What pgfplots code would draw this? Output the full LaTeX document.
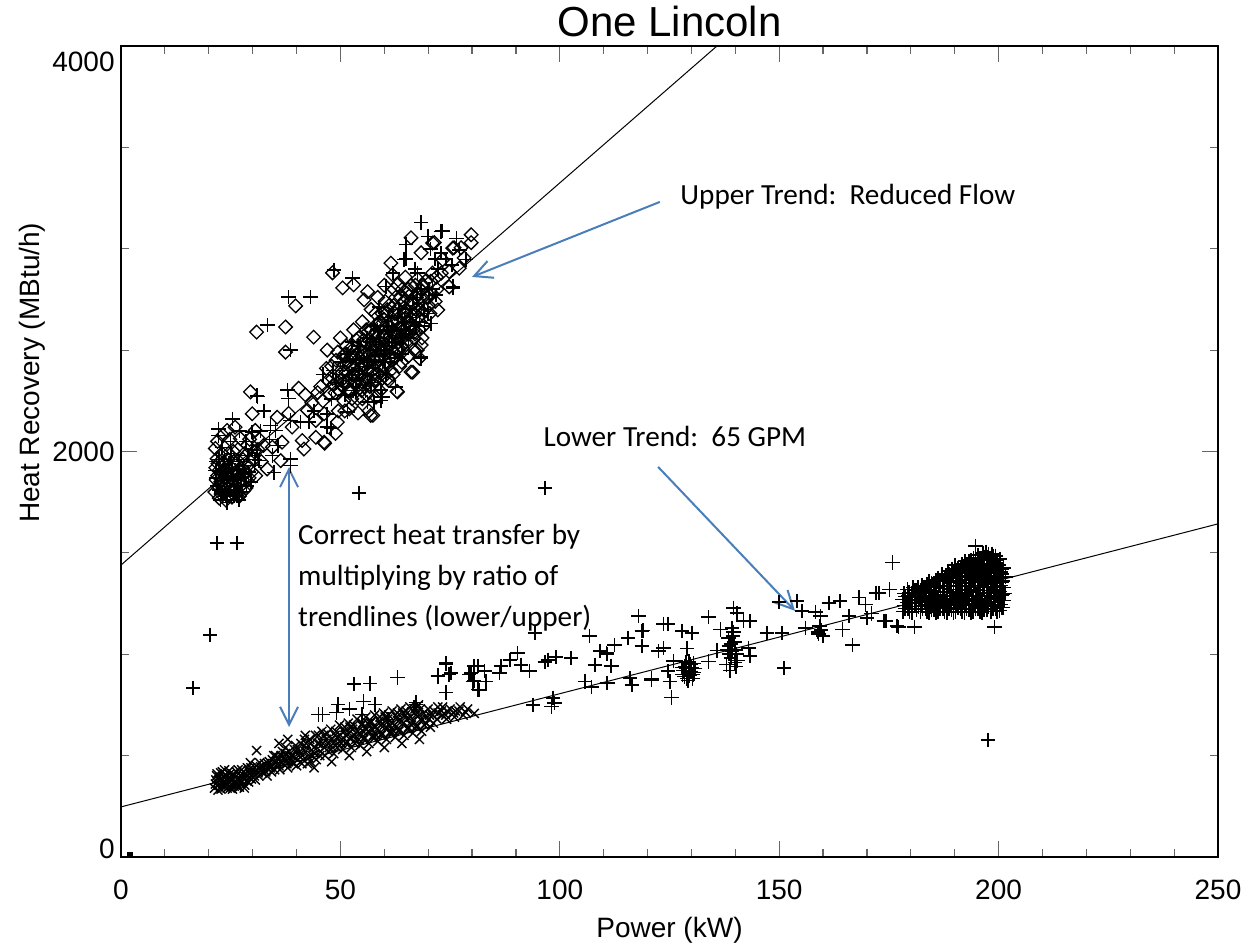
\documentclass[border=0pt]{standalone}
\usepackage{pgfplots}
\pgfplotsset{compat=1.18}
\usepackage{pgfplotstable}
\usepackage{fontspec}
\setmainfont{Liberation Sans}
\newfontfamily\calibri{Carlito}
\usetikzlibrary{arrows.meta}
\definecolor{arrowblue}{HTML}{4A7EBB}

\pgfplotstableread[row sep=\\]{
x y\\
21.5 2015\\ 21.9 1964\\ 22.0 1880\\ 22.3 1825\\ 22.5 1910\\ 22.8 1790\\ 23.0 1860\\ 23.3 1945\\ 23.5 1800\\ 23.8 1890\\
24.0 1830\\ 24.2 2104\\ 24.4 1960\\ 24.6 1785\\ 24.9 1870\\ 25.1 1920\\ 25.4 1810\\ 25.6 2000\\ 25.9 1855\\ 26.2 1940\\
26.5 1795\\ 26.8 1890\\ 27.2 2064\\ 27.5 1835\\ 27.8 1960\\ 28.0 1807\\ 28.4 1900\\ 28.8 2030\\ 29.2 1870\\ 29.5 2294\\
29.9 2186\\ 30.2 1960\\ 30.6 2104\\ 31.2 2010\\ 32.0 1950\\ 33.3 1914\\ 34.5 2021\\ 35.6 2169\\ 36.4 1955\\ 36.7 2046\\
38.2 2188\\ 39.0 2120\\ 40.5 2312\\ 41.3 2054\\ 41.7 2012\\ 42.5 2203\\ 44.4 2153\\ 44.4 2070\\ 46.3 2186\\ 46.3 2046\\
49.3 2145\\ 48.9 2089\\ 30.9 2589\\ 37.5 2614\\ 37.5 2490\\ 39.8 2718\\ 48.2 2881\\ 50.5 2807\\ 53.0 2822\\ 43.9 2564\\
46.4 2040\\ 57.4 2178\\ 56.9 2178\\ 58.1 2268\\ 62.9 2297\\ 63.0 2294\\ 66.5 2391\\ 66.1 2392\\ 68.4 2525\\ 72.2 2698\\
74.8 2812\\ 74.8 2887\\ 77.1 2904\\ 73.3 2946\\ 75.6 3003\\ 77.5 3005\\ 79.8 3069\\ 79.8 3030\\ 71.4 3030\\ 75.9 3005\\
66.1 3054\\ 71.0 3028\\ 68.4 2980\\ 61.5 2929\\ 61.9 2871\\ 56.2 2788\\ 55.4 2748\\ 68.4 2797\\ 63.0 2822\\ 78.2 2955\\
45.5 2320\\ 46.8 2410\\ 47.5 2280\\ 48.2 2360\\ 49.0 2450\\ 49.8 2300\\ 50.4 2390\\ 51.0 2480\\ 51.5 2340\\ 52.1 2420\\
52.6 2260\\ 53.2 2510\\ 53.8 2380\\ 54.3 2460\\ 54.8 2300\\ 55.3 2550\\ 55.7 2420\\ 56.2 2490\\ 56.6 2350\\ 57.1 2600\\
57.5 2460\\ 58.0 2530\\ 58.4 2380\\ 58.9 2640\\ 59.3 2500\\ 59.7 2570\\ 60.1 2420\\ 60.5 2680\\ 60.9 2540\\ 61.3 2610\\
61.7 2450\\ 62.1 2720\\ 62.5 2580\\ 62.9 2650\\ 63.3 2500\\ 63.8 2760\\ 64.2 2620\\ 64.6 2690\\ 65.0 2540\\ 65.5 2800\\
66.0 2660\\ 66.5 2730\\ 67.0 2580\\ 67.6 2850\\ 68.2 2700\\ 69.0 2620\\ 70.0 2760\\ 71.0 2880\\ 72.0 2800\\ 59.0 2300\\
61.0 2350\\ 64.0 2440\\ 55.0 2640\\ 57.0 2700\\ 53.0 2600\\ 50.0 2560\\ 47.0 2500\\ 52.0 2210\\ 49.5 2200\\ 58.5 2760\\
60.0 2820\\ 62.0 2380\\ 65.5 2470\\ 67.5 2500\\
52.3 2300\\ 52.8 2380\\ 53.4 2330\\ 53.9 2260\\ 54.5 2410\\ 55.1 2340\\ 55.6 2480\\ 56.1 2400\\ 56.7 2320\\ 57.2 2520\\
57.8 2380\\ 58.3 2460\\ 58.8 2540\\ 59.4 2400\\ 59.9 2610\\ 60.4 2500\\ 60.8 2360\\ 61.4 2570\\ 61.9 2640\\ 62.4 2460\\
62.8 2700\\ 63.4 2580\\ 63.9 2520\\ 64.4 2740\\ 64.9 2660\\ 65.3 2580\\ 65.9 2720\\ 66.3 2620\\ 66.9 2680\\ 67.3 2760\\
68.0 2600\\ 68.6 2560\\ 69.3 2700\\ 70.4 2680\\ 48.5 2330\\ 49.6 2370\\ 50.8 2250\\ 51.7 2440\\ 46.0 2250\\ 44.8 2290\\
43.5 2240\\ 42.0 2280\\ 55.9 2600\\ 58.0 2680\\ 60.2 2740\\ 62.2 2800\\ 64.8 2860\\ 56.5 2200\\ 54.0 2190\\
21.4 1800\\ 21.7 1860\\ 22.1 1940\\ 22.4 1770\\ 22.7 1850\\ 23.0 1990\\ 23.2 1820\\ 23.6 1910\\ 23.9 1760\\ 24.2 1870\\
24.5 1990\\ 24.8 1830\\ 25.0 1900\\ 25.3 1775\\ 25.7 1950\\ 26.0 1820\\ 26.4 1890\\ 26.7 2010\\ 27.0 1780\\ 27.3 1920\\
27.7 1860\\ 28.1 1990\\ 28.5 1820\\ 28.9 1930\\ 29.3 2060\\ 29.8 1900\\ 30.3 2000\\ 30.7 1880\\ 31.5 2060\\ 32.5 2030\\
22.0 2050\\ 23.2 2080\\ 24.8 2060\\ 26.0 2120\\ 21.6 1920\\ 25.5 1860\\ 24.0 1920\\ 26.9 1840\\ 23.7 1830\\ 22.9 1900\\
47.2 2350\\ 48.0 2420\\ 48.8 2290\\ 49.4 2490\\ 50.2 2350\\ 50.9 2430\\ 51.4 2520\\ 52.0 2300\\ 52.5 2470\\ 53.1 2380\\
53.6 2550\\ 54.2 2330\\ 54.7 2500\\ 55.2 2430\\ 55.8 2350\\ 56.3 2590\\ 56.8 2450\\ 57.3 2400\\ 57.9 2580\\ 58.4 2630\\
58.9 2450\\ 59.5 2680\\ 60.0 2560\\ 60.6 2440\\ 61.1 2720\\ 61.6 2510\\ 62.1 2580\\ 62.6 2760\\ 63.1 2640\\ 63.6 2560\\
64.1 2800\\ 64.6 2580\\ 65.1 2700\\ 65.7 2620\\ 66.2 2820\\ 66.7 2560\\ 67.2 2700\\ 67.8 2780\\ 68.8 2820\\ 69.6 2760\\
70.6 2840\\ 71.6 2740\\ 55.0 2260\\ 58.0 2350\\ 61.5 2400\\ 64.5 2500\\ 68.0 2460\\ 53.0 2470\\ 57.0 2540\\ 60.0 2650\\
50.3 2330\\ 50.7 2470\\ 51.2 2390\\ 51.8 2300\\ 52.4 2510\\ 52.9 2420\\ 53.3 2350\\ 53.7 2480\\ 54.1 2560\\ 54.6 2380\\
55.0 2470\\ 55.4 2320\\ 55.9 2530\\ 56.4 2440\\ 56.9 2600\\ 57.3 2500\\ 57.7 2350\\ 58.1 2590\\ 58.6 2420\\ 59.1 2520\\
59.5 2630\\ 59.9 2470\\ 60.3 2580\\ 60.7 2700\\ 61.2 2460\\ 61.6 2640\\ 62.0 2540\\ 62.4 2680\\ 62.9 2500\\ 63.3 2610\\
63.7 2720\\ 64.2 2560\\ 64.7 2680\\ 65.2 2780\\ 65.6 2640\\ 66.1 2740\\ 66.6 2600\\ 67.1 2820\\ 67.6 2660\\ 68.1 2760\\
68.7 2680\\ 69.4 2840\\ 70.1 2720\\ 70.8 2780\\ 71.9 2860\\ 73.0 2880\\ 51.0 2200\\ 56.0 2280\\ 59.5 2360\\ 63.5 2420\\
66.8 2500\\
}\updiamond

\pgfplotstableread[row sep=\\]{
x y\\
22.2 2112\\ 25.4 2161\\ 22.2 2079\\ 31.0 2277\\ 37.9 2302\\ 38.2 2262\\ 34.1 2129\\ 29.9 2096\\ 35.2 2104\\ 38.6 2153\\
40.9 2145\\ 42.8 2145\\ 47.0 2186\\ 47.0 2120\\ 51.6 2194\\ 56.2 2244\\ 59.6 2268\\ 59.2 2302\\ 47.8 2114\\ 31.0 2005\\
34.5 1980\\ 31.4 1955\\ 38.6 1963\\ 38.6 1931\\ 34.8 1897\\ 24.2 1749\\ 26.5 1782\\ 21.5 1906\\ 33.4 2624\\ 38.2 2762\\
43.2 2762\\ 48.5 2896\\ 52.8 2856\\ 31.1 2272\\ 38.6 2500\\ 68.4 3129\\ 72.9 3085\\ 69.9 3061\\ 64.9 3020\\ 72.9 2979\\
77.1 2995\\ 78.6 2946\\ 75.6 2813\\ 71.8 2772\\ 64.5 2946\\ 67.6 2879\\ 60.4 2813\\ 58.8 2714\\ 68.4 2459\\ 62.6 2318\\
59.2 2252\\ 57.7 2244\\ 70.6 2632\\ 73.3 3086\\ 75.7 2807\\ 68.4 2465\\
22.0 1830\\ 22.6 1900\\ 23.1 1790\\ 23.6 1960\\ 24.1 1860\\ 24.8 1810\\ 25.3 1920\\ 25.8 1780\\ 26.3 1870\\ 27.0 1950\\
27.6 1800\\ 28.2 1890\\ 29.0 1980\\ 29.6 1850\\ 30.4 1930\\ 23.0 2020\\ 25.0 2050\\ 27.0 2100\\
22.4 1810\\ 23.4 1870\\ 24.6 1940\\ 25.6 1830\\ 26.6 1910\\ 27.4 1870\\ 28.6 1830\\ 23.8 1780\\ 21.8 1950\\
46.0 2380\\ 48.0 2260\\ 50.0 2440\\ 52.0 2350\\ 53.5 2450\\ 55.0 2380\\ 56.0 2560\\ 57.5 2410\\ 58.5 2600\\ 60.0 2480\\
61.0 2660\\ 62.5 2540\\ 63.5 2700\\ 65.0 2600\\ 66.5 2760\\ 68.0 2640\\ 54.0 2520\\ 51.0 2280\\ 64.0 2480\\ 67.0 2900\\
53.0 2300\\ 55.5 2420\\ 57.0 2340\\ 58.2 2500\\ 59.6 2440\\ 61.2 2520\\ 62.8 2600\\ 64.2 2560\\ 65.8 2680\\ 67.2 2620\\
60.6 2620\\ 63.0 2460\\ 49.0 2340\\ 50.5 2380\\ 44.0 2200\\
21.6 1870\\ 22.3 1960\\ 22.9 1800\\ 23.5 1930\\ 24.0 1790\\ 24.5 1880\\ 25.1 1990\\ 25.6 1860\\ 26.1 1800\\ 26.8 1960\\
27.3 1830\\ 27.9 1930\\ 28.5 2050\\ 29.1 1900\\ 29.8 2010\\ 30.6 1960\\ 31.8 2100\\ 32.6 2200\\ 33.8 2060\\ 35.8 2030\\
22.7 1760\\ 24.3 1760\\ 26.9 1760\\
48.3 2400\\ 50.6 2320\\ 52.7 2540\\ 54.3 2400\\ 56.0 2450\\ 57.6 2620\\ 59.0 2560\\ 60.4 2380\\ 61.8 2600\\ 63.2 2700\\
64.6 2640\\ 66.0 2580\\ 67.4 2760\\ 69.0 2700\\ 70.2 2800\\ 71.5 2950\\ 65.0 2950\\ 62.0 2880\\ 58.0 2440\\ 55.7 2300\\
50.5 2400\\ 51.5 2480\\ 52.6 2380\\ 53.6 2300\\ 54.4 2520\\ 55.3 2460\\ 56.2 2380\\ 56.8 2540\\ 57.8 2470\\ 58.7 2560\\
59.4 2500\\ 60.2 2440\\ 60.9 2600\\ 61.7 2540\\ 62.3 2460\\ 63.1 2660\\ 63.9 2600\\ 64.8 2720\\ 65.5 2560\\ 66.4 2660\\
67.3 2700\\ 68.3 2800\\ 69.2 2620\\ 70.0 2680\\ 71.0 2800\\ 72.3 2900\\ 74.0 2950\\ 75.5 2920\\ 76.5 3050\\ 70.5 3000\\
16.4 834\\ 20.3 1095\\ 21.9 1549\\ 26.4 1549\\ 54.2 1796\\ 96.6 1820\\ 197.6 577\\
}\upplus

\pgfplotstableread[row sep=\\]{
x y\\
21.3 340\\ 21.6 380\\ 21.9 410\\ 22.2 355\\ 22.5 395\\ 22.8 335\\ 23.1 420\\ 23.4 370\\ 23.7 345\\ 24.0 400\\
24.3 360\\ 24.6 425\\ 24.9 340\\ 25.2 385\\ 25.5 410\\ 25.8 350\\ 26.1 395\\ 26.4 365\\ 26.7 430\\ 27.0 345\\
27.3 400\\ 27.6 375\\ 27.9 420\\ 28.2 355\\ 28.5 395\\ 28.8 440\\ 29.1 370\\ 29.4 410\\ 29.7 385\\ 30.0 430\\
30.4 400\\ 30.8 450\\ 31.2 415\\ 31.6 465\\ 32.0 430\\ 29.5 465\\ 30.9 525\\ 37.5 540\\
33.0 420\\ 33.5 460\\ 34.0 440\\ 34.5 480\\ 35.0 430\\ 35.5 470\\ 36.0 450\\ 36.5 500\\ 37.0 460\\ 37.5 510\\
38.0 440\\ 38.5 490\\ 39.0 470\\ 39.5 530\\ 40.0 450\\ 40.5 500\\ 41.0 560\\ 41.5 480\\ 42.0 520\\ 42.5 460\\
43.0 580\\ 43.5 500\\ 44.0 540\\ 44.5 480\\ 45.0 600\\ 45.5 520\\ 46.0 560\\ 46.5 500\\ 47.0 610\\ 47.5 540\\
48.0 580\\ 48.5 510\\ 49.0 620\\ 49.5 560\\ 50.0 600\\ 50.5 530\\ 51.0 640\\ 51.5 570\\ 52.0 610\\ 52.5 540\\
53.0 650\\ 53.5 580\\ 54.0 620\\ 54.5 550\\ 55.0 660\\ 55.5 590\\ 56.0 630\\ 56.5 560\\ 57.0 670\\ 57.5 600\\
58.0 640\\ 58.5 570\\ 59.0 690\\ 59.5 610\\ 60.0 650\\ 60.5 580\\ 61.0 700\\ 61.5 620\\ 62.0 660\\ 62.5 590\\
63.0 710\\ 63.5 630\\ 64.0 670\\ 64.5 600\\ 65.0 720\\ 65.5 640\\ 66.0 690\\ 66.5 610\\ 67.0 730\\ 67.5 650\\
68.0 700\\ 68.5 620\\ 69.0 710\\ 69.5 660\\ 70.0 730\\ 70.5 640\\ 71.0 700\\ 72.0 680\\ 73.0 720\\ 74.0 700\\
75.0 730\\ 76.0 690\\ 77.0 720\\ 78.0 700\\ 79.0 730\\ 80.5 708\\ 36.0 560\\ 38.0 580\\ 42.0 600\\ 44.0 440\\
48.0 470\\ 52.0 500\\ 56.0 520\\ 60.0 540\\ 64.0 560\\ 68.0 580\\
21.5 360\\ 21.8 400\\ 22.1 330\\ 22.4 380\\ 22.7 415\\ 23.0 350\\ 23.3 395\\ 23.6 430\\ 23.9 365\\ 24.2 340\\
24.5 390\\ 24.8 410\\ 25.1 355\\ 25.4 335\\ 25.7 400\\ 26.0 375\\ 26.3 420\\ 26.6 345\\ 26.9 385\\ 27.2 365\\
27.5 430\\ 27.8 390\\ 28.1 340\\ 28.4 410\\ 28.7 375\\ 29.0 425\\ 29.3 390\\ 29.6 440\\ 30.2 415\\ 30.6 380\\
31.0 430\\ 31.4 400\\ 31.8 445\\ 32.3 415\\ 32.7 460\\ 33.2 440\\ 33.8 470\\ 34.3 420\\ 34.8 500\\ 35.3 450\\
35.8 490\\ 36.3 470\\ 36.8 520\\ 37.3 480\\ 37.8 460\\ 38.3 520\\ 38.8 500\\ 39.3 460\\ 39.8 550\\ 40.3 480\\
40.8 520\\ 41.3 500\\ 41.8 580\\ 42.3 540\\ 42.8 490\\ 43.3 560\\ 43.8 520\\ 44.3 600\\ 44.8 560\\ 45.3 500\\
45.8 620\\ 46.3 540\\ 46.8 580\\ 47.3 520\\ 47.8 630\\ 48.3 560\\ 48.8 600\\ 49.3 540\\ 49.8 650\\ 50.3 580\\
50.8 620\\ 51.3 560\\ 51.8 660\\ 52.3 590\\ 52.8 630\\ 53.3 560\\ 53.8 680\\ 54.3 610\\ 54.8 650\\ 55.3 580\\
55.8 690\\ 56.3 620\\ 56.8 660\\ 57.3 590\\ 57.8 700\\ 58.3 630\\ 58.8 670\\ 59.3 600\\ 59.8 710\\ 60.3 640\\
60.8 680\\ 61.3 610\\ 61.8 720\\ 62.3 650\\ 62.8 690\\ 63.3 620\\ 63.8 730\\ 64.3 660\\ 64.8 700\\ 65.3 630\\
65.8 740\\ 66.3 670\\ 66.8 710\\ 67.3 640\\ 67.8 750\\ 68.3 680\\ 69.3 690\\ 70.3 700\\ 71.3 720\\ 72.3 710\\
73.3 740\\ 74.3 720\\ 75.8 710\\ 77.3 740\\
40.2 530\\ 41.2 460\\ 42.2 560\\ 43.2 470\\ 44.2 510\\ 45.2 560\\ 46.2 600\\ 47.2 560\\ 48.2 540\\ 49.2 590\\
50.2 560\\ 51.2 600\\ 52.2 640\\ 53.2 600\\ 54.2 580\\ 55.2 620\\ 56.2 660\\ 57.2 630\\ 58.2 600\\ 59.2 650\\
60.2 690\\ 61.2 650\\ 62.2 620\\ 63.2 670\\ 64.2 710\\ 65.2 680\\ 66.2 650\\ 67.2 700\\ 68.2 730\\ 69.2 650\\
70.2 680\\ 71.2 660\\ 72.2 740\\ 73.2 700\\ 74.2 680\\ 76.2 720\\ 78.5 715\\ 34.2 450\\ 35.2 500\\ 36.2 430\\
37.2 490\\ 38.2 470\\ 39.2 500\\ 32.5 440\\ 33.3 400\\
}\lowx

\pgfplotstableread[row sep=\\]{
x y\\
74.1 951\\ 72.2 896\\ 74.8 901\\ 74.1 812\\ 63.0 886\\ 53.1 853\\ 56.7 856\\ 55.3 767\\ 57.9 752\\ 49.5 752\\
52.1 729\\ 54.9 703\\ 49.1 713\\ 45.9 703\\ 45.0 703\\ 67.2 762\\ 66.8 738\\ 80.5 941\\ 79.3 901\\ 80.5 871\\
81.4 827\\ 60.8 678\\
117.9 1188\\ 118.7 1114\\ 118.7 1040\\ 122.5 1015\\ 115.6 1081\\ 112.5 1047\\ 109.1 1015\\ 110.6 1006\\ 108.0 948\\ 111.6 941\\
106.8 1089\\ 94.3 1105\\ 102.6 980\\ 99.2 985\\ 97.3 973\\ 96.6 961\\ 93.1 916\\ 91.1 946\\ 90.4 1006\\ 88.6 973\\
86.6 941\\ 86.3 907\\ 82.8 916\\ 81.3 941\\ 79.8 907\\ 80.2 866\\ 81.7 824\\ 83.2 866\\ 74.1 956\\ 75.2 907\\
72.2 891\\ 67.2 752\\ 93.9 750\\ 98.5 784\\ 98.8 759\\ 98.1 743\\ 105.7 866\\ 107.2 837\\ 110.9 858\\ 116.0 882\\
116.4 849\\ 120.9 881\\
123.6 1150\\ 124.7 1150\\ 119.0 1117\\ 110.7 1001\\ 111.8 941\\ 110.7 858\\ 120.9 874\\ 125.1 866\\ 125.5 787\\ 123.6 1031\\
127.8 1114\\ 130.1 1105\\ 129.0 1028\\ 125.9 968\\ 124.7 916\\ 133.9 1183\\ 136.6 1122\\ 139.6 1229\\ 140.4 1204\\ 141.9 1163\\
143.4 1163\\ 143.0 1031\\ 143.4 990\\ 133.9 965\\ 135.8 1018\\ 147.2 1105\\ 150.7 1105\\ 151.1 932\\ 149.9 1259\\ 154.1 1262\\
155.2 1213\\ 158.3 1209\\ 159.4 1188\\ 156.0 1130\\ 161.3 1254\\ 163.9 1262\\ 165.9 1188\\ 164.4 1122\\ 166.7 1047\\ 168.2 1279\\
169.7 1245\\ 172.8 1303\\ 175.1 1320\\ 174.3 1163\\ 176.9 1139\\ 175.8 1452\\ 194.7 1535\\ 199.1 1134\\ 177.2 1134\\ 180.8 1134\\
173.9 1163\\ 172.0 1303\\ 171.0 1200\\ 170.0 1180\\
128.0 900\\ 128.5 940\\ 129.0 880\\ 129.3 916\\ 129.8 950\\ 130.3 900\\ 130.8 930\\ 128.2 920\\ 129.6 895\\ 130.0 935\\
128.8 960\\ 129.2 870\\ 130.5 955\\ 127.8 935\\ 129.9 915\\ 128.4 890\\ 129.5 965\\ 130.6 910\\ 128.9 930\\ 130.2 880\\
138.0 950\\ 138.5 1000\\ 139.0 1050\\ 139.5 1090\\ 140.0 1020\\ 140.5 970\\ 139.2 1015\\ 138.8 920\\ 139.8 1060\\ 138.4 1080\\
140.2 940\\ 139.0 980\\ 139.6 1110\\ 138.6 1040\\ 139.3 1130\\ 140.3 1000\\ 138.2 1020\\ 139.9 960\\
159.0 1100\\ 159.5 1120\\ 160.0 1090\\ 159.2 1140\\ 158.8 1110\\
178.2 1210\\ 178.4 1240\\ 178.1 1270\\ 178.5 1300\\
179.3 1225\\ 179.1 1255\\ 179.4 1290\\ 179.2 1320\\
180.2 1205\\ 180.4 1235\\ 180.1 1265\\ 180.3 1300\\ 180.5 1330\\
181.3 1220\\ 181.1 1250\\ 181.4 1285\\ 181.2 1315\\
182.2 1210\\ 182.4 1240\\ 182.1 1270\\ 182.3 1305\\ 182.5 1340\\
183.3 1225\\ 183.1 1260\\ 183.4 1290\\ 183.2 1325\\
184.2 1205\\ 184.4 1235\\ 184.1 1270\\ 184.3 1300\\ 184.5 1335\\ 184.2 1360\\
185.3 1220\\ 185.1 1250\\ 185.4 1285\\ 185.2 1315\\ 185.3 1350\\
186.2 1210\\ 186.4 1245\\ 186.1 1275\\ 186.3 1310\\ 186.5 1340\\ 186.2 1375\\
187.3 1225\\ 187.1 1260\\ 187.4 1290\\ 187.2 1325\\ 187.3 1360\\ 187.1 1395\\
188.2 1205\\ 188.4 1240\\ 188.1 1270\\ 188.3 1305\\ 188.5 1335\\ 188.2 1370\\ 188.4 1410\\
189.3 1220\\ 189.1 1250\\ 189.4 1285\\ 189.2 1320\\ 189.3 1355\\ 189.1 1385\\ 189.4 1420\\
190.2 1210\\ 190.4 1245\\ 190.1 1275\\ 190.3 1310\\ 190.5 1340\\ 190.2 1375\\ 190.4 1405\\ 190.1 1440\\
191.3 1225\\ 191.1 1255\\ 191.4 1290\\ 191.2 1320\\ 191.3 1350\\ 191.1 1385\\ 191.4 1420\\
192.2 1205\\ 192.4 1240\\ 192.1 1270\\ 192.3 1300\\ 192.5 1335\\ 192.2 1365\\ 192.4 1400\\ 192.1 1435\\ 192.3 1460\\
193.3 1220\\ 193.1 1250\\ 193.4 1285\\ 193.2 1315\\ 193.3 1350\\ 193.1 1380\\ 193.4 1415\\ 193.2 1450\\
194.2 1210\\ 194.4 1245\\ 194.1 1275\\ 194.3 1305\\ 194.5 1340\\ 194.2 1370\\ 194.4 1405\\ 194.1 1440\\ 194.3 1475\\
195.3 1225\\ 195.1 1260\\ 195.4 1290\\ 195.2 1320\\ 195.3 1355\\ 195.1 1390\\ 195.4 1420\\ 195.2 1455\\ 195.3 1490\\
196.2 1205\\ 196.4 1235\\ 196.1 1270\\ 196.3 1300\\ 196.5 1330\\ 196.2 1365\\ 196.4 1395\\ 196.1 1430\\ 196.3 1465\\ 196.5 1500\\
197.3 1220\\ 197.1 1250\\ 197.4 1285\\ 197.2 1315\\ 197.3 1345\\ 197.1 1380\\ 197.4 1410\\ 197.2 1445\\ 197.3 1480\\ 197.1 1505\\
198.2 1210\\ 198.4 1240\\ 198.1 1275\\ 198.3 1305\\ 198.5 1335\\ 198.2 1370\\ 198.4 1400\\ 198.1 1435\\ 198.3 1470\\ 198.5 1495\\
199.3 1225\\ 199.1 1255\\ 199.4 1290\\ 199.2 1320\\ 199.3 1350\\ 199.1 1385\\ 199.4 1415\\ 199.2 1450\\ 199.3 1485\\
200.2 1215\\ 200.4 1245\\ 200.1 1280\\ 200.3 1310\\ 200.5 1340\\ 200.2 1375\\ 200.4 1405\\ 200.1 1440\\ 200.3 1470\\
201.0 1230\\ 201.2 1265\\ 200.9 1295\\ 201.1 1330\\ 201.0 1360\\ 200.8 1395\\ 201.1 1425\\
178.7 1225\\ 178.8 1285\\ 179.7 1210\\ 179.8 1270\\ 179.6 1305\\ 180.8 1250\\ 180.7 1315\\ 181.7 1235\\ 181.8 1300\\ 181.6 1330\\
182.7 1225\\ 182.8 1290\\ 182.8 1320\\ 183.7 1210\\ 183.8 1245\\ 183.6 1310\\ 183.7 1345\\ 184.7 1220\\ 184.8 1285\\ 184.7 1350\\
185.7 1205\\ 185.8 1270\\ 185.7 1330\\ 185.8 1365\\ 186.7 1225\\ 186.8 1295\\ 186.7 1360\\ 187.7 1210\\ 187.8 1245\\ 187.7 1310\\
187.8 1380\\ 188.7 1225\\ 188.8 1290\\ 188.7 1355\\ 188.8 1395\\ 189.7 1205\\ 189.8 1270\\ 189.7 1335\\ 189.8 1405\\ 190.7 1230\\
190.8 1295\\ 190.7 1360\\ 190.8 1425\\ 191.7 1210\\ 191.8 1270\\ 191.7 1335\\ 191.8 1400\\ 191.7 1445\\ 192.7 1225\\ 192.8 1285\\
192.7 1350\\ 192.8 1420\\ 193.7 1205\\ 193.8 1265\\ 193.7 1330\\ 193.8 1400\\ 193.7 1465\\ 194.7 1225\\ 194.8 1290\\ 194.7 1355\\
194.8 1425\\ 194.7 1490\\ 195.7 1210\\ 195.8 1275\\ 195.7 1340\\ 195.8 1405\\ 195.7 1470\\ 196.7 1220\\ 196.8 1285\\ 196.7 1350\\
196.8 1415\\ 196.7 1480\\ 197.7 1235\\ 197.8 1300\\ 197.7 1365\\ 197.8 1430\\ 197.7 1495\\ 198.7 1225\\ 198.8 1290\\ 198.7 1355\\
198.8 1420\\ 198.7 1485\\ 199.7 1210\\ 199.8 1270\\ 199.7 1335\\ 199.8 1400\\ 199.7 1465\\ 200.7 1230\\ 200.8 1290\\ 200.7 1355\\
200.8 1420\\ 201.5 1300\\ 201.6 1380\\
}\lowplus

\begin{document}
\begin{tikzpicture}
\begin{axis}[
  scale only axis,
  width=548.5pt, height=405.5pt,
  xmin=0, xmax=250, ymin=0, ymax=4000,
  xtick={0,50,100,150,200,250}, minor x tick num=4,
  ytick={0,2000,4000}, minor y tick num=3,
  yticklabels={{\raisebox{4pt}[\height][\depth]{0}},2000,{\raisebox{-8pt}[\height][\depth]{4000}}},
  tick align=inside,
  major tick length=8pt, minor tick length=4pt,
  every tick/.style={black!60, line width=0.6pt},
  axis line style={line width=0.6pt},
  tick label style={font=\fontsize{14}{16}\selectfont},
  /pgf/number format/assume math mode=true,
  /pgf/number format/set thousands separator={},
  scaled ticks=false,
  xticklabel style={anchor=center, yshift=-16.5pt},
  yticklabel style={anchor=east, inner sep=0pt, xshift=-3pt},
  xlabel={Power (kW)},
  ylabel={Heat Recovery (MBtu/h)},
  label style={font=\fontsize{14}{16}\selectfont},
  xlabel style={at={([yshift=-36.5pt]axis description cs:0.5,0)}, anchor=center},
  ylabel style={at={([xshift=-44.5pt]axis description cs:0,0.597)}, anchor=center},
  title={One Lincoln},
  title style={font=\fontsize{21}{24}\selectfont, at={(axis description cs:0.5,1)}, anchor=center, yshift=6pt, inner sep=0pt},
]
\addplot[black, line width=0.5pt] coordinates {(0,1440) (250,6152)};
\addplot[black, line width=0.5pt] coordinates {(0,247) (250,1643)};
\addplot[only marks, mark=square, mark size=2.4pt, mark options={rotate=45, black, line width=0.65pt}] table[x=x,y=y] {\updiamond};
\addplot[only marks, mark=+, mark size=3.6pt, mark options={black, line width=0.8pt}] table[x=x,y=y] {\upplus};
\addplot[only marks, mark=x, mark size=3.2pt, mark options={black, line width=0.7pt}] table[x=x,y=y] {\lowx};
\addplot[only marks, mark=+, mark size=3.6pt, mark options={black, line width=0.8pt}] table[x=x,y=y] {\lowplus};
\addplot[only marks, mark=square*, mark size=1.2pt, mark options={black}] coordinates {(2,12)};

\draw[arrowblue, line width=1pt, -{Straight Barb[length=9pt,width=9pt]}] (axis cs:122.8,3231) -- (axis cs:80.0,2861);
\draw[arrowblue, line width=1pt, -{Straight Barb[length=9pt,width=9pt]}] (axis cs:122.4,1924) -- (axis cs:153.6,1214);
\draw[arrowblue, line width=1pt, {Straight Barb[length=9pt,width=9pt]}-{Straight Barb[length=9pt,width=9pt]}] (axis cs:38.3,1924) -- (axis cs:38.3,641);
\node[anchor=west, inner sep=0pt, font=\calibri\fontsize{14.6}{20.5}\selectfont] at (axis cs:127.4,3256) {Upper Trend:\ \ Reduced Flow};
\node[anchor=west, inner sep=0pt, font=\calibri\fontsize{14.6}{20.5}\selectfont] at (axis cs:96.2,2072) {Lower Trend:\ \ 65 GPM};
\node[anchor=west, inner sep=0pt, align=left, font=\calibri\fontsize{14.6}{20.5}\selectfont] at (axis cs:40.3,1376) {Correct heat transfer by\\multiplying by ratio of\\trendlines (lower/upper)};
\end{axis}
\path ([shift={(-60.5pt,-47pt)}]current axis.south west) rectangle ([shift={(18.5pt,23pt)}]current axis.north east);
\end{tikzpicture}
\end{document}
